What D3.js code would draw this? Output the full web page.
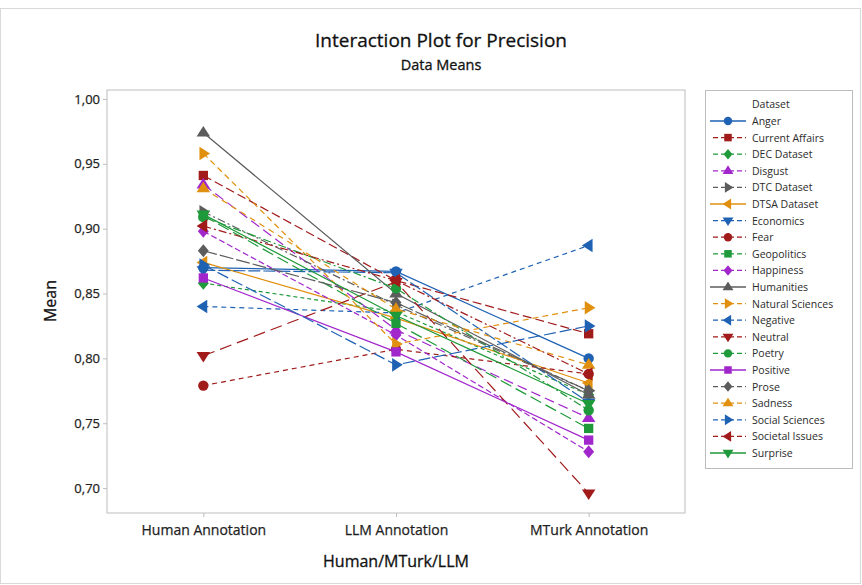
<!DOCTYPE html>
<html>
<head>
<meta charset="utf-8">
<script src="https://cdn.jsdelivr.net/npm/d3@7"></script>
<style>
  body { margin: 0; background: #fff; }
  svg { font-family: "Open Sans", "Noto Sans", sans-serif; }
</style>
</head>
<body>
<div id="chart"></div>
<script>
// categories on the x axis
var groups = ['Human Annotation', 'LLM Annotation', 'MTurk Annotation'];

// dataset names (legend order)
var datasets = ['Anger', 'Current Affairs', 'DEC Dataset', 'Disgust', 'DTC Dataset',
  'DTSA Dataset', 'Economics', 'Fear', 'Geopolitics', 'Happiness', 'Humanities',
  'Natural Sciences', 'Negative', 'Neutral', 'Poetry', 'Positive', 'Prose',
  'Sadness', 'Social Sciences', 'Societal Issues', 'Surprise'];

// mean precision: Human, LLM, MTurk
var anger = [0.870, 0.867, 0.800];
var currentAffairs = [0.941, 0.860, 0.819];
var decDataset = [0.858, 0.836, 0.772];
var disgust = [0.934, 0.822, 0.754];
var dtcDataset = [0.913, 0.841, 0.775];
var dtsaDataset = [0.874, 0.831, 0.781];
var economics = [0.868, 0.866, 0.766];
var fear = [0.779, 0.807, 0.788];
var geopolitics = [0.910, 0.827, 0.746];
var happiness = [0.898, 0.818, 0.728];
var humanities = [0.974, 0.850, 0.772];
var naturalSciences = [0.958, 0.811, 0.839];
var negative = [0.840, 0.835, 0.887];
var neutral = [0.802, 0.859, 0.696];
var poetry = [0.909, 0.854, 0.760];
var positive = [0.862, 0.805, 0.737];
var prose = [0.883, 0.843, 0.775];
var sadness = [0.931, 0.838, 0.795];
var socialSciences = [0.872, 0.795, 0.825];
var societalIssues = [0.902, 0.860, 0.788];
var surprise = [0.911, 0.833, 0.765];

var yTicks = [0.70, 0.75, 0.80, 0.85, 0.90, 0.95, 1.00];

var values = [anger, currentAffairs, decDataset, disgust, dtcDataset, dtsaDataset,
  economics, fear, geopolitics, happiness, humanities, naturalSciences, negative,
  neutral, poetry, positive, prose, sadness, socialSciences, societalIssues, surprise];

// style per dataset (minitab-ish)
var blue = '#1f62b4', red = '#a11b1b', green = '#1f9a3a', purple = '#a127cc',
    grey = '#5c5c5c', orange = '#e0900e';
var styles = [
  {c: blue,   s: 'circle',  d: null},
  {c: red,    s: 'square',  d: '9,4'},
  {c: green,  s: 'diamond', d: '4,3'},
  {c: purple, s: 'tri',     d: '10,5'},
  {c: grey,   s: 'right',   d: '8,3,2,3'},
  {c: orange, s: 'left',    d: null},
  {c: blue,   s: 'down',    d: '12,3'},
  {c: red,    s: 'circle',  d: '5,4'},
  {c: green,  s: 'square',  d: '12,5'},
  {c: purple, s: 'diamond', d: '6,3'},
  {c: grey,   s: 'tri',     d: null},
  {c: orange, s: 'right',   d: '6,4'},
  {c: blue,   s: 'left',    d: '5,4'},
  {c: red,    s: 'down',    d: '12,6'},
  {c: green,  s: 'circle',  d: '8,3,2,3'},
  {c: purple, s: 'square',  d: null},
  {c: grey,   s: 'diamond', d: '14,3'},
  {c: orange, s: 'tri',     d: '6,5'},
  {c: blue,   s: 'right',   d: '12,4'},
  {c: red,    s: 'left',    d: '8,3,2,3'},
  {c: green,  s: 'down',    d: null}
];

var W = 862, H = 585;
var svg = d3.select('#chart').append('svg').attr('width', W).attr('height', H);

// outer frame
svg.append('rect').attr('x', 0.5).attr('y', 8.5).attr('width', W - 2).attr('height', H - 10)
  .attr('fill', 'none').attr('stroke', '#d9d9d9');

var x = d3.scalePoint().domain(groups).range([107, 685]).padding(0.5);
var y = d3.scaleLinear().domain([0.6808, 1.0069]).range([513, 90]);

// symbol path centred on 0,0
function marker(s, r) {
  if (s === 'circle') return d3.symbol(d3.symbolCircle, r * r * Math.PI)();
  if (s === 'square') return d3.symbol(d3.symbolSquare, r * r * 3.2)();
  if (s === 'diamond') return 'M0,' + (-r * 1.25) + 'L' + (r * 1.05) + ',0L0,' + (r * 1.25) + 'L' + (-r * 1.05) + ',0Z';
  var a = r * 1.3, b = r * 0.75;
  if (s === 'tri') return 'M0,' + (-a) + 'L' + a + ',' + b + 'L' + (-a) + ',' + b + 'Z';
  if (s === 'down') return 'M0,' + a + 'L' + a + ',' + (-b) + 'L' + (-a) + ',' + (-b) + 'Z';
  if (s === 'right') return 'M' + a + ',0L' + (-b) + ',' + a + 'L' + (-b) + ',' + (-a) + 'Z';
  return 'M' + (-a) + ',0L' + b + ',' + a + 'L' + b + ',' + (-a) + 'Z';
}

// plot frame
svg.append('rect').attr('x', 107).attr('y', 90).attr('width', 578).attr('height', 423)
  .attr('fill', 'none').attr('stroke', '#bdbdbd');

// axes
var yAxis = svg.append('g').attr('transform', 'translate(107,0)')
  .call(d3.axisLeft(y).tickValues(yTicks).tickSize(4).tickPadding(3)
    .tickFormat(function(d) { return d3.format('.2f')(d).replace('.', ','); }));
var xAxis = svg.append('g').attr('transform', 'translate(0,513)')
  .call(d3.axisBottom(x).tickSize(4).tickPadding(8));
[xAxis, yAxis].forEach(function(g) {
  g.select('.domain').remove();
  g.selectAll('line').attr('stroke', '#bdbdbd');
  g.selectAll('text').attr('fill', '#1e1e1e').style('font-size', '14px')
    .style('font-family', '"Open Sans", sans-serif').style('stroke', '#1e1e1e').style('stroke-width', 0.25);
});
yAxis.selectAll('text').style('font-size', '13px');

var line = d3.line().x(function(d, i) { return x(groups[i]); }).y(function(d) { return y(d); });

var series = svg.append('g').selectAll('g').data(values).join('g');
series.append('path')
  .attr('d', function(d) { return line(d); })
  .attr('fill', 'none')
  .attr('stroke', function(d, i) { return styles[i].c; })
  .attr('stroke-width', 1.2)
  .attr('stroke-dasharray', function(d, i) { return styles[i].d; });
series.each(function(vals, i) {
  d3.select(this).selectAll('path.m').data(vals).join('path').attr('class', 'm')
    .attr('transform', function(d, j) { return 'translate(' + x(groups[j]) + ',' + y(d) + ')'; })
    .attr('d', marker(styles[i].s, 5.2))
    .attr('fill', styles[i].c);
});

// titles
svg.append('text').attr('x', 441).attr('y', 47).attr('text-anchor', 'middle')
  .style('font-size', '19px').attr('fill', '#111').style('stroke', '#111').style('stroke-width', 0.3)
  .text('Interaction Plot for Precision');
svg.append('text').attr('x', 441).attr('y', 70).attr('text-anchor', 'middle')
  .style('font-size', '14.5px').attr('fill', '#111').style('stroke', '#111').style('stroke-width', 0.3)
  .text('Data Means');
svg.append('text').attr('x', 396).attr('y', 567).attr('text-anchor', 'middle')
  .style('font-size', '16px').attr('fill', '#111').style('stroke', '#111').style('stroke-width', 0.3)
  .text('Human/MTurk/LLM');
svg.append('text').attr('transform', 'translate(56,301) rotate(-90)').attr('text-anchor', 'middle')
  .style('font-size', '16px').attr('fill', '#111').style('stroke', '#111').style('stroke-width', 0.3)
  .text('Mean');

// legend
var leg = svg.append('g');
leg.append('rect').attr('x', 705.5).attr('y', 90.5).attr('width', 147).attr('height', 378)
  .attr('fill', 'none').attr('stroke', '#bdbdbd');
leg.append('text').attr('x', 752).attr('y', 108).style('font-size', '10.5px')
  .attr('fill', '#2b2b2b').text('Dataset');
var item = leg.selectAll('g.item').data(datasets).join('g').attr('class', 'item')
  .attr('transform', function(d, i) { return 'translate(0,' + (121 + i * 16.6) + ')'; });
item.append('line').attr('x1', 710).attr('x2', 746).attr('y1', 0).attr('y2', 0)
  .attr('stroke', function(d, i) { return styles[i].c; })
  .attr('stroke-width', 1.3)
  .attr('stroke-dasharray', function(d, i) { return styles[i].d ? '5,3' : null; })
  .attr('stroke-dashoffset', -3);
item.append('path').attr('transform', 'translate(728,0)')
  .attr('d', function(d, i) { return marker(styles[i].s, 4.2); })
  .attr('fill', function(d, i) { return styles[i].c; });
item.append('text').attr('x', 752).attr('y', 4).style('font-size', '10.5px')
  .attr('fill', '#2b2b2b').text(function(d) { return d; });
</script>
</body>
</html>
